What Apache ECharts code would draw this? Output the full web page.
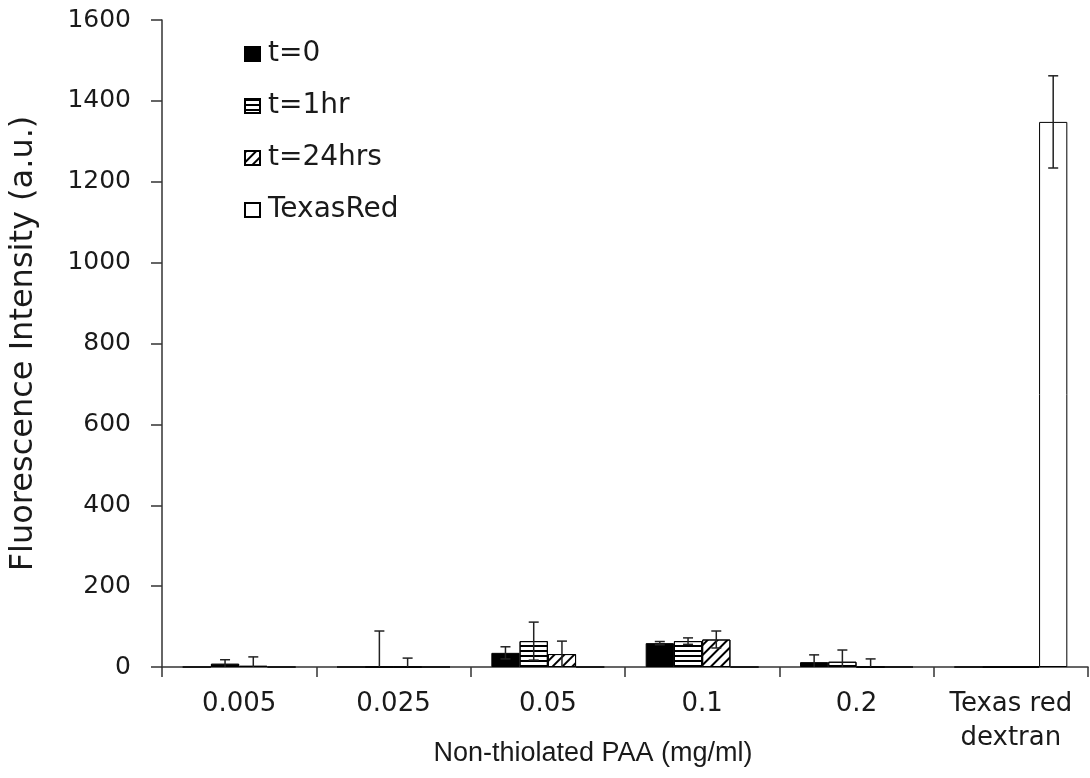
<!DOCTYPE html>
<html><head><meta charset="utf-8">
<script src="https://cdn.jsdelivr.net/npm/echarts@6/dist/echarts.min.js"></script>
<style>html,body{margin:0;padding:0;background:#fff}#c{width:1090px;height:778px}</style>
</head><body><div id="c"></div>
<script>
const categories = ['0.005', '0.025', '0.05', '0.1', '0.2', 'Texas red\ndextran'];
const seriesNames = ['t=0', 't=1hr', 't=24hrs', 'TexasRed'];
const t0 = [0, 0, 35, 59, 12, 0];
const t0Err = [0, 0, 15, 4, 18, 0];
const t1 = [8, 0, 64, 64, 13, 0];
const t1Err = [10, 89, 47, 8, 29, 0];
const t24 = [3, 0, 32, 68, 0, 0];
const t24Err = [22, 22, 32, 21, 20, 0];
const texas = [0, 0, 0, 0, 0, 1348];
const texasErr = [0, 0, 0, 0, 0, 114];
const yTicks = [0, 1600, 200];

const values = [t0, t1, t24, texas];
const errs = [t0Err, t1Err, t24Err, texasErr];
const BAR_RATIO = 0.183;
const FONT = 'DejaVu Sans, sans-serif';
const FONT2 = 'Liberation Sans, Arial, sans-serif';
const TXT = '#1a1a1a';

const styles = [
  { color: '#000', borderColor: '#000', borderWidth: 1 },
  { color: '#fff', borderColor: '#000', borderWidth: 1,
    decal: { symbol: 'rect', symbolSize: 1, dashArrayX: [1, 0], dashArrayY: [1.5, 3], rotation: 0, color: '#000' } },
  { color: '#fff', borderColor: '#000', borderWidth: 1,
    decal: { symbol: 'rect', symbolSize: 1, dashArrayX: [1, 0], dashArrayY: [2, 5], rotation: -Math.PI / 4, color: '#000' } },
  { color: '#fff', borderColor: '#000', borderWidth: 1 }
];

const series = [];
values.forEach((v, i) => {
  series.push({
    name: seriesNames[i], type: 'bar', data: v, barWidth: (BAR_RATIO * 100) + '%', barGap: '0%',
    itemStyle: styles[i], emphasis: { disabled: true }, animation: false
  });
});
values.forEach((v, i) => {
  series.push({
    type: 'custom', silent: true, animation: false, z: 10,
    data: v.map((val, k) => [k, val, errs[i][k]]),
    renderItem: function (params, api) {
      const k = api.value(0), val = api.value(1), e = api.value(2);
      if (!e) return null;
      const band = api.size([1, 0])[0];
      const bw = band * BAR_RATIO;
      const off = (i - 1.5) * bw;
      const lo = Math.max(0, val - e), hi = val + e;
      const pHi = api.coord([k, hi]), pLo = api.coord([k, lo]);
      const x = pHi[0] + off;
      const cap = 5;
      const st = { stroke: '#222', lineWidth: 1.5 };
      const children = [
        { type: 'line', shape: { x1: x, y1: pHi[1], x2: x, y2: pLo[1] }, style: st },
        { type: 'line', shape: { x1: x - cap, y1: pHi[1], x2: x + cap, y2: pHi[1] }, style: st }
      ];
      if (val - e > 0) children.push({ type: 'line', shape: { x1: x - cap, y1: pLo[1], x2: x + cap, y2: pLo[1] }, style: st });
      return { type: 'group', children };
    }
  });
});

const chart = echarts.init(document.getElementById('c'));
chart.setOption({
  backgroundColor: '#fff',
  animation: false,
  grid: { left: 162, right: 2, top: 20, bottom: 111, containLabel: false, outerBoundsMode: 'none' },
  legend: {
    data: seriesNames, orient: 'vertical', left: 244, top: 38, itemGap: 20, padding: 0,
    itemWidth: 15, itemHeight: 14, icon: 'rect', selectedMode: false,
    textStyle: { fontFamily: FONT, fontSize: 28, color: TXT, lineHeight: 32, padding: [0, 0, 0, 3] }
  },
  xAxis: {
    type: 'category', data: categories,
    name: 'Non-thiolated PAA (mg/ml)', nameLocation: 'middle', nameGap: 73, nameMoveOverlap: false,
    nameTextStyle: { fontFamily: FONT2, fontSize: 27, color: TXT, padding: [0, 64, 0, 0] },
    axisLine: { lineStyle: { color: '#333', width: 1.5 } },
    axisTick: { show: true, length: 10, interval: 0, inside: false, lineStyle: { color: '#333', width: 1.5 } },
    axisLabel: { fontFamily: FONT, fontSize: 26, color: TXT, margin: 20, interval: 0, lineHeight: 34 }
  },
  yAxis: {
    type: 'value', min: yTicks[0], max: yTicks[1], interval: yTicks[2],
    name: 'Fluorescence Intensity (a.u.)', nameLocation: 'middle', nameGap: 122, nameMoveOverlap: false,
    nameTextStyle: { fontFamily: FONT, fontSize: 32, color: TXT },
    axisLine: { show: true, lineStyle: { color: '#333', width: 1.5 } },
    axisTick: { show: true, length: 11, inside: false, lineStyle: { color: '#333', width: 1.5 } },
    splitLine: { show: false },
    axisLabel: { fontFamily: FONT, fontSize: 25, color: TXT, margin: 31, formatter: v => String(v) }
  },
  series
});
</script></body></html>
